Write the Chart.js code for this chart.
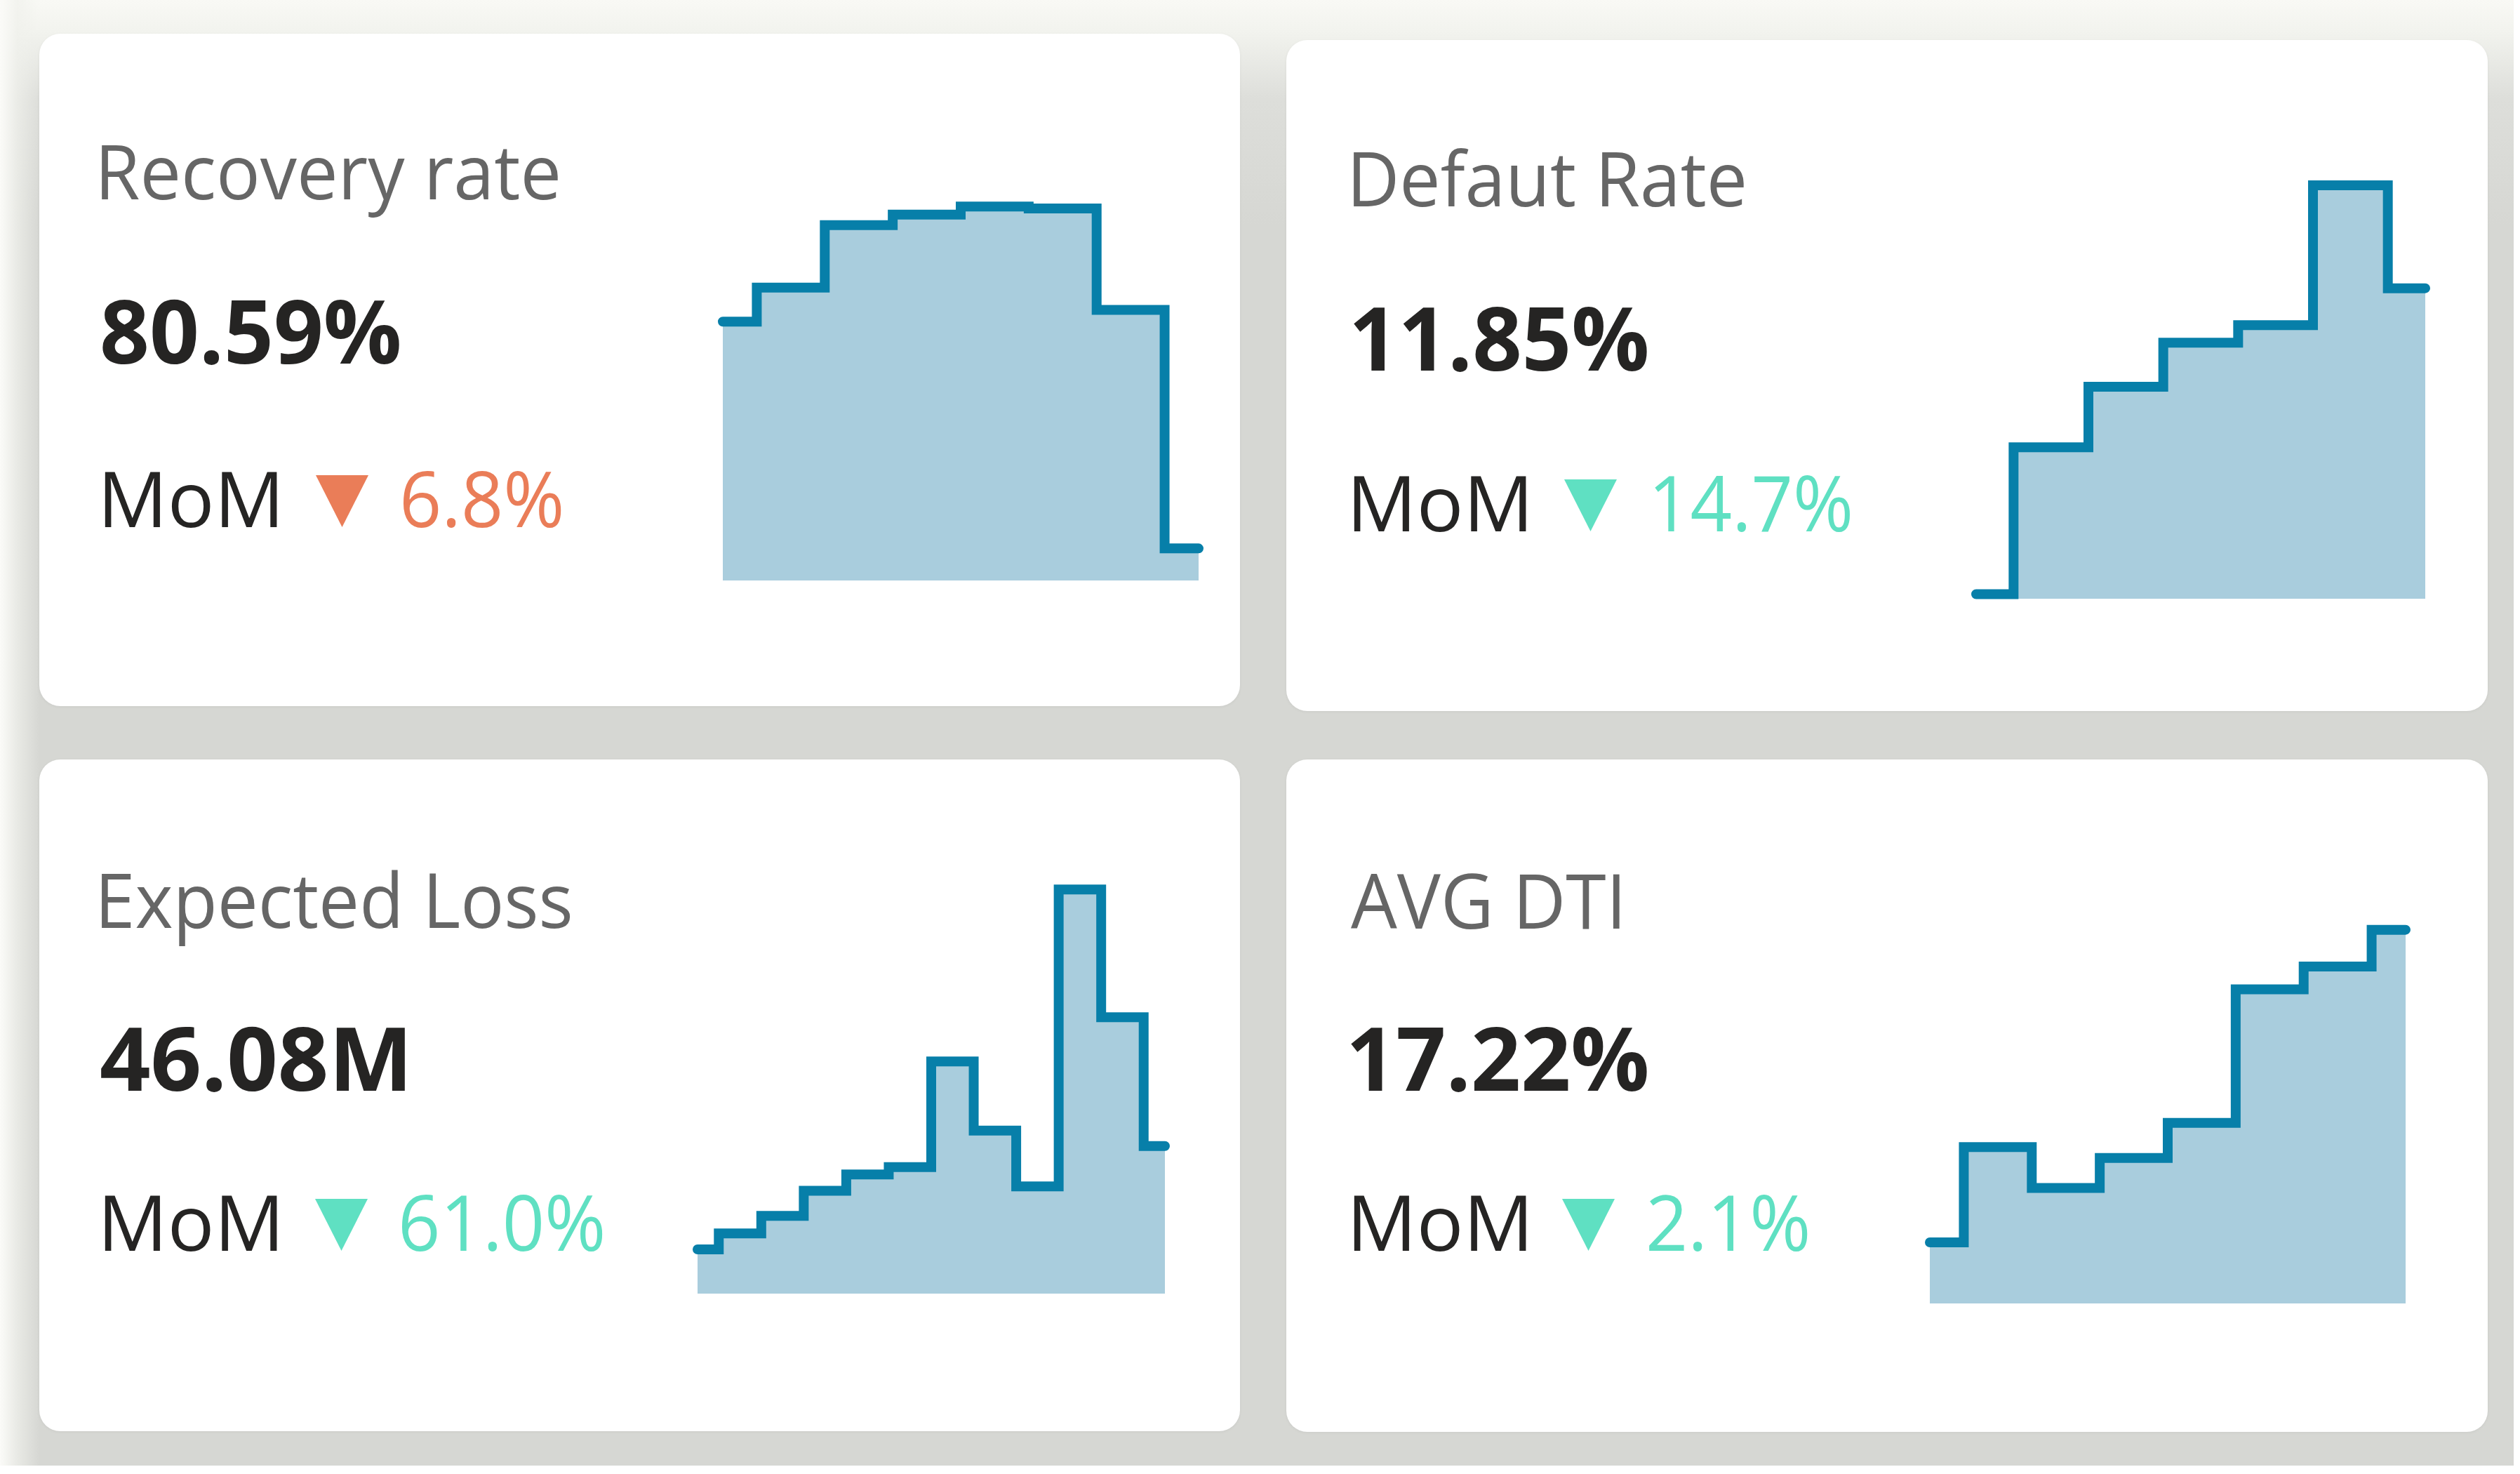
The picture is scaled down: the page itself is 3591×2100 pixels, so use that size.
<!DOCTYPE html>
<html>
<head>
<meta charset="utf-8">
<script src="https://cdn.jsdelivr.net/npm/chart.js@4.4.0/dist/chart.umd.min.js"></script>
<style>
  html, body { margin: 0; padding: 0; background: #ffffff; }
  body { width: 3591px; height: 2100px; position: relative; overflow: hidden;
         font-family: 'Open Sans', 'Noto Sans', sans-serif; }
  #page { position: absolute; left: 0; top: 0; width: 3582px; height: 2088px;
          background:
            linear-gradient(to right, rgba(251,251,248,1) 0px, rgba(240,241,236,0.7) 25px, rgba(214,215,211,0) 56px),
            linear-gradient(to bottom, #f9f9f5 0px, #f2f3ee 45px, #dddeda 140px, #d6d7d3 320px); }
  .card { position: absolute; background: #ffffff; border-radius: 30px;
          box-shadow: 0 1px 4px rgba(0,0,0,0.05); }
  .txt { position: absolute; left: 0; top: 0; white-space: nowrap; line-height: 1.2; transform-origin: 0 0; }
  .mark { display: inline-block; width: 0; height: 0; }
  .title { color: #666666; font-size: 108px; font-weight: 400; }
  .value { color: #252423; font-size: 125px; font-weight: 700; }
  .mom { color: #252423; font-size: 110px; font-weight: 400; }
  .tri { position: absolute; clip-path: polygon(0 0, 100% 0, 50% 100%); }
  canvas { position: absolute; }
</style>
</head>
<body>
<div id="page"></div>
<script>
// KPI data
const months = ['Jan', 'Feb', 'Mar', 'Apr', 'May', 'Jun', 'Jul', 'Aug', 'Sep', 'Oct', 'Nov', 'Dec'];
const cardTitles = ['Recovery rate', 'Defaut Rate', 'Expected Loss', 'AVG DTI'];
const cardValues = ['80.59%', '11.85%', '46.08M', '17.22%'];
const momLabel = 'MoM';
const momValues = ['6.8%', '14.7%', '61.0%', '2.1%'];
const momIsGood = [false, true, true, true];

// sparkline series
const recoveryRate = [86.18, 87.02, 88.56, 88.82, 89.02, 88.97, 86.47, 80.59];
const defaultRate = [5.79, 8.70, 9.90, 10.77, 11.12, 13.89, 11.85];
const expectedLoss = [13.8, 18.8, 24.3, 32.1, 37.2, 39.5, 72.5, 50.9, 33.5, 126.2, 86.3, 46.08];
const avgDti = [11.18, 13.02, 12.23, 12.81, 13.49, 16.07, 16.51, 17.22];

const LINE_COLOR = '#077fa9';
const FILL_COLOR = '#a9cddd';
const GOOD_COLOR = '#5fe0c2';
const BAD_COLOR = '#ea7d58';

// card layout (pixels)
const cards = [
  { left: 56, top: 48, w: 1711, h: 958,
    title: [145, 284, 650], value: [146, 518, 423], mom: [149, 751, 246], tri: [450, 677, 75, 74], pct: [575, 751, 225],
    chart: { left: 1030, right: 1708, top: 278, bottom: 827, min: 79.8, max: 89.3 }, series: recoveryRate },
  { left: 1833, top: 57, w: 1712, h: 956,
    title: [1929, 294, 556], value: [1929, 528, 418], mom: [1929, 757, 246], tri: [2229, 683, 75, 74], pct: [2358, 757, 279],
    chart: { left: 2816, right: 3456, top: 256, bottom: 853, min: 5.7, max: 14.0 }, series: defaultRate },
  { left: 56, top: 1082, w: 1711, h: 957,
    title: [145, 1322, 668], value: [144, 1554, 433], mom: [149, 1782, 246], tri: [449, 1708, 75, 74], pct: [573, 1782, 286],
    chart: { left: 994, right: 1660, top: 1250, bottom: 1843, min: 0, max: 130 }, series: expectedLoss },
  { left: 1833, top: 1082, w: 1712, h: 958,
    title: [1925, 1323, 383], value: [1925, 1554, 422], mom: [1929, 1782, 246], tri: [2226, 1708, 75, 74], pct: [2350, 1782, 226],
    chart: { left: 2750, right: 3428, top: 1304, bottom: 1857, min: 10, max: 17.5 }, series: avgDti }
];

const measureCtx = document.createElement('canvas').getContext('2d');

// place text so its ink starts at x, sits on baseline, and spans inkWidth
function addText(text, cls, x, baseline, inkWidth, color) {
  const el = document.createElement('div');
  el.className = 'txt ' + cls;
  if (color) el.style.color = color;
  const span = document.createElement('span');
  span.textContent = text;
  const mark = document.createElement('span');
  mark.className = 'mark';
  el.appendChild(span);
  el.appendChild(mark);
  document.body.appendChild(el);

  const cs = getComputedStyle(el);
  measureCtx.font = cs.fontWeight + ' ' + cs.fontSize + ' ' + cs.fontFamily;
  const tm = measureCtx.measureText(text);
  const ink = tm.actualBoundingBoxLeft + tm.actualBoundingBoxRight;
  const sx = inkWidth ? inkWidth / ink : 1;
  el.style.left = (x + tm.actualBoundingBoxLeft * sx) + 'px';
  el.style.transform = 'scaleX(' + sx + ')';
  const r = el.getBoundingClientRect();
  const m = mark.getBoundingClientRect();
  el.style.top = (baseline - (m.top - r.top)) + 'px';
}

function sparkline(series, area) {
  const pad = 12;
  const canvas = document.createElement('canvas');
  canvas.width = area.right - area.left + pad * 2;
  canvas.height = area.bottom - area.top + pad * 2;
  canvas.style.left = (area.left - pad) + 'px';
  canvas.style.top = (area.top - pad) + 'px';
  document.body.appendChild(canvas);

  return new Chart(canvas, {
    type: 'line',
    data: {
      labels: months.slice(0, series.length),
      datasets: [{
        data: series,
        stepped: 'middle',
        fill: 'start',
        backgroundColor: FILL_COLOR,
        borderColor: LINE_COLOR,
        borderWidth: 14,
        borderCapStyle: 'round',
        borderJoinStyle: 'miter',
        pointRadius: 0,
        clip: false
      }]
    },
    options: {
      responsive: false,
      animation: false,
      events: [],
      layout: { padding: pad },
      plugins: { legend: { display: false }, tooltip: { enabled: false } },
      scales: {
        x: { display: false, offset: false },
        y: { display: false, min: area.min, max: area.max }
      }
    }
  });
}

cards.forEach(function(c, i) {
  const card = document.createElement('div');
  card.className = 'card';
  card.style.left = c.left + 'px';
  card.style.top = c.top + 'px';
  card.style.width = c.w + 'px';
  card.style.height = c.h + 'px';
  document.body.appendChild(card);

  const color = momIsGood[i] ? GOOD_COLOR : BAD_COLOR;
  addText(cardTitles[i], 'title', c.title[0], c.title[1], c.title[2]);
  addText(cardValues[i], 'value', c.value[0], c.value[1], c.value[2]);
  addText(momLabel, 'mom', c.mom[0], c.mom[1], c.mom[2]);
  addText(momValues[i], 'mom', c.pct[0], c.pct[1], c.pct[2], color);

  const tri = document.createElement('div');
  tri.className = 'tri';
  tri.style.left = c.tri[0] + 'px';
  tri.style.top = c.tri[1] + 'px';
  tri.style.width = c.tri[2] + 'px';
  tri.style.height = c.tri[3] + 'px';
  tri.style.background = color;
  document.body.appendChild(tri);

  sparkline(c.series, c.chart);
});
</script>
</body>
</html>
